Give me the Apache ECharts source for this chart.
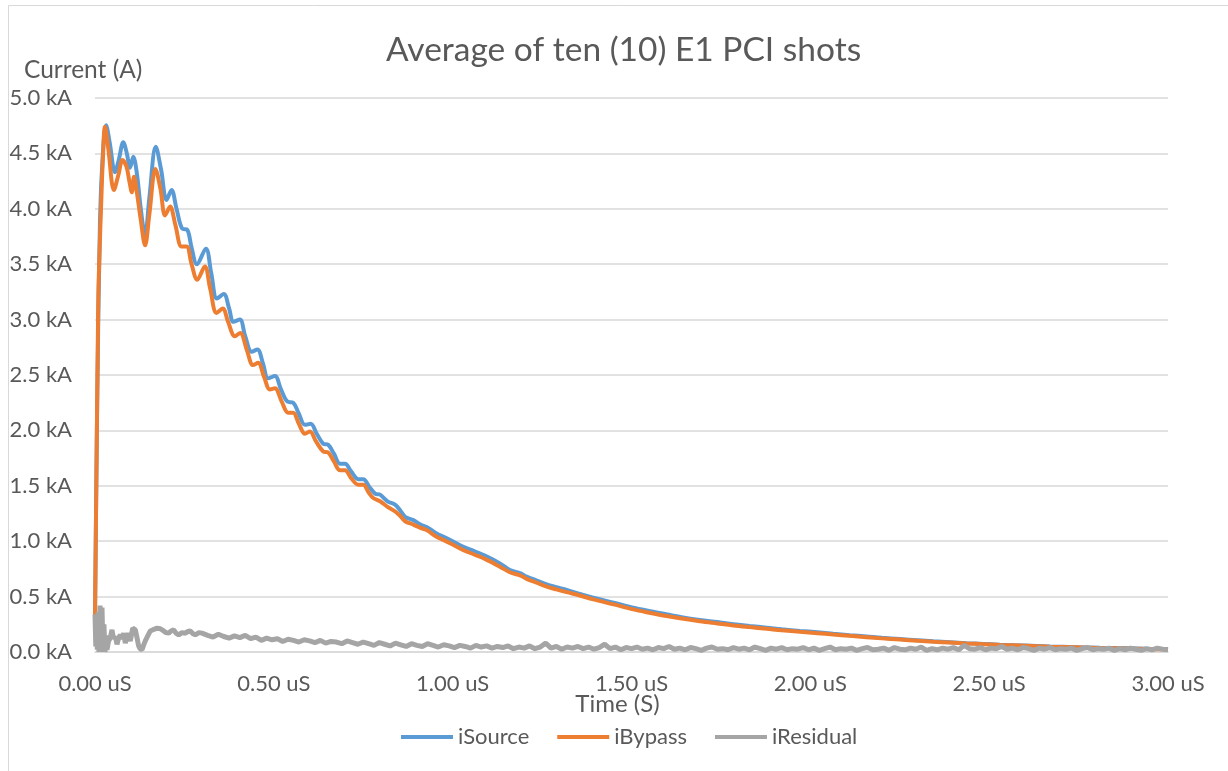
<!DOCTYPE html>
<html>
<head>
<meta charset="utf-8">
<title>Average of ten (10) E1 PCI shots</title>
<script src="https://cdn.jsdelivr.net/npm/echarts@6/dist/echarts.min.js"></script>
<style>
  html, body { margin: 0; padding: 0; background: #fff; }
  #chart { width: 1228px; height: 771px; }
</style>
</head>
<body>
<div id="chart"></div>
<script>
// axis ticks
const xTicks = [0, 0.5, 1, 1.5, 2, 2.5, 3]
const yTicks = [0, 0.5, 1, 1.5, 2, 2.5, 3, 3.5, 4, 4.5, 5]

// iSource: time (uS) / current (kA)
const tSource = [0, 0.006, 0.014, 0.022, 0.031, 0.041, 0.056, 0.067, 0.079, 0.089, 0.098, 0.107, 0.117, 0.128, 0.140, 0.152, 0.170, 0.185, 0.200, 0.214, 0.228, 0.244, 0.258, 0.270, 0.285, 0.310, 0.325, 0.341, 0.360, 0.375, 0.387, 0.405, 0.420, 0.438, 0.454, 0.470, 0.484, 0.503, 0.520, 0.538, 0.554, 0.570, 0.587, 0.603, 0.620, 0.638, 0.652, 0.668, 0.685, 0.699, 0.716, 0.736, 0.750, 0.767, 0.783, 0.797, 0.818, 0.839, 0.853, 0.867, 0.890, 0.910, 0.932, 0.955, 0.975, 1.0, 1.03, 1.06, 1.09, 1.132, 1.160, 1.19, 1.207, 1.235, 1.263, 1.29, 1.319, 1.355, 1.393, 1.45, 1.505, 1.55, 1.598, 1.64, 1.691, 1.74, 1.785, 1.83, 1.878, 1.92, 1.971, 2.02, 2.064, 2.11, 2.157, 2.20, 2.251, 2.30, 2.344, 2.39, 2.437, 2.485, 2.53, 2.6, 2.67, 2.74, 2.81, 2.88, 2.94, 3.0]
const iSource = [0.3, 2.2, 3.9, 4.5, 4.755, 4.6, 4.33, 4.45, 4.60, 4.5, 4.37, 4.47, 4.32, 4.0, 3.76, 4.1, 4.56, 4.35, 4.08, 4.17, 4.0, 3.82, 3.81, 3.65, 3.50, 3.64, 3.42, 3.19, 3.23, 3.1, 2.98, 3.00, 2.85, 2.71, 2.73, 2.6, 2.47, 2.49, 2.37, 2.26, 2.25, 2.15, 2.05, 2.06, 1.97, 1.88, 1.87, 1.79, 1.70, 1.70, 1.63, 1.56, 1.56, 1.49, 1.43, 1.42, 1.36, 1.33, 1.28, 1.22, 1.19, 1.15, 1.12, 1.07, 1.04, 1.0, 0.95, 0.91, 0.87, 0.80, 0.74, 0.71, 0.68, 0.645, 0.61, 0.585, 0.56, 0.525, 0.49, 0.445, 0.40, 0.37, 0.34, 0.315, 0.29, 0.27, 0.25, 0.235, 0.22, 0.205, 0.19, 0.178, 0.165, 0.152, 0.14, 0.128, 0.117, 0.106, 0.096, 0.088, 0.08, 0.073, 0.066, 0.058, 0.05, 0.044, 0.038, 0.033, 0.029, 0.026]

// iBypass
const tBypass = [0, 0.004, 0.0092, 0.012, 0.0176, 0.022, 0.028, 0.037, 0.053, 0.065, 0.077, 0.088, 0.096, 0.103, 0.109, 0.117, 0.128, 0.140, 0.152, 0.169, 0.183, 0.196, 0.210, 0.225, 0.242, 0.256, 0.270, 0.286, 0.307, 0.322, 0.340, 0.357, 0.372, 0.391, 0.406, 0.425, 0.442, 0.456, 0.473, 0.489, 0.503, 0.522, 0.540, 0.554, 0.570, 0.587, 0.601, 0.618, 0.638, 0.652, 0.668, 0.685, 0.699, 0.716, 0.736, 0.750, 0.765, 0.778, 0.797, 0.818, 0.839, 0.853, 0.867, 0.890, 0.910, 0.927, 0.955, 0.975, 1.0, 1.03, 1.06, 1.09, 1.132, 1.160, 1.19, 1.207, 1.235, 1.263, 1.29, 1.319, 1.355, 1.393, 1.45, 1.505, 1.55, 1.598, 1.64, 1.691, 1.74, 1.785, 1.83, 1.878, 1.92, 1.971, 2.02, 2.064, 2.11, 2.157, 2.20, 2.251, 2.30, 2.344, 2.39, 2.437, 2.485, 2.53, 2.6, 2.67, 2.74, 2.81, 2.88, 2.94, 3.0]
const iBypass = [0.3, 1.6, 3.18, 3.54, 4.08, 4.45, 4.74, 4.55, 4.17, 4.3, 4.44, 4.38, 4.25, 4.15, 4.29, 4.15, 3.9, 3.67, 3.95, 4.36, 4.18, 3.94, 4.02, 3.85, 3.66, 3.66, 3.5, 3.36, 3.48, 3.28, 3.06, 3.10, 2.98, 2.85, 2.88, 2.72, 2.59, 2.61, 2.48, 2.37, 2.38, 2.26, 2.16, 2.16, 2.06, 1.97, 1.99, 1.9, 1.81, 1.80, 1.72, 1.64, 1.64, 1.57, 1.51, 1.51, 1.44, 1.39, 1.36, 1.31, 1.27, 1.23, 1.18, 1.15, 1.12, 1.10, 1.04, 1.01, 0.97, 0.92, 0.88, 0.84, 0.77, 0.72, 0.69, 0.66, 0.625, 0.59, 0.565, 0.54, 0.51, 0.475, 0.43, 0.385, 0.355, 0.325, 0.302, 0.278, 0.258, 0.24, 0.225, 0.21, 0.196, 0.182, 0.17, 0.158, 0.146, 0.134, 0.123, 0.112, 0.102, 0.093, 0.085, 0.077, 0.07, 0.064, 0.056, 0.048, 0.042, 0.036, 0.031, 0.027, 0.024]

// iResidual, first 0.3 uS read point by point
const tResidualEarly = [0, 0.0022, 0.004, 0.0064, 0.0084, 0.011, 0.014, 0.0176, 0.0196, 0.0224, 0.025, 0.028, 0.031, 0.0335, 0.038, 0.042, 0.0475, 0.0517, 0.0568, 0.0615, 0.0657, 0.0707, 0.0755, 0.0802, 0.0847, 0.0923, 0.0987, 0.1054, 0.1127, 0.1174, 0.1216, 0.1258, 0.1314, 0.1356, 0.1406, 0.1482, 0.1546, 0.165, 0.1733, 0.1826, 0.1921, 0.1985, 0.206, 0.2125, 0.22, 0.2264, 0.234, 0.2432, 0.2524, 0.26, 0.2664, 0.274, 0.2804, 0.2907, 0.2991]
const iResidualEarly = [0.34, 0.05, 0.30, 0.02, 0.36, 0.0, 0.42, 0.05, 0.40, 0.0, 0.25, 0.0, 0.15, 0.02, 0.10, 0.12, 0.20, 0.12, 0.14, 0.07, 0.12, 0.155, 0.12, 0.17, 0.08, 0.17, 0.10, 0.215, 0.2, 0.13, 0.06, 0.03, 0.02, 0.06, 0.10, 0.15, 0.19, 0.205, 0.215, 0.21, 0.19, 0.175, 0.17, 0.19, 0.2, 0.17, 0.155, 0.175, 0.17, 0.185, 0.19, 0.165, 0.155, 0.175, 0.17]
// then sampled every 0.015 uS from 0.315 uS
const residualStart = 0.315
const residualStep = 0.015
const iResidualLate = [
  0.15, 0.135, 0.16, 0.14, 0.125, 0.145, 0.13, 0.15, 0.12, 0.135,
  0.105, 0.125, 0.11, 0.12, 0.095, 0.115, 0.105, 0.09, 0.11, 0.1,
  0.085, 0.105, 0.08, 0.095, 0.09, 0.075, 0.1, 0.085, 0.07, 0.09,
  0.075, 0.06, 0.085, 0.07, 0.055, 0.08, 0.065, 0.05, 0.075, 0.06,
  0.05, 0.075, 0.06, 0.045, 0.065, 0.055, 0.04, 0.06, 0.05, 0.035,
  0.06, 0.045, 0.055, 0.035, 0.05, 0.04, 0.055, 0.03, 0.045, 0.035,
  0.055, 0.03, 0.045, 0.08, 0.035, 0.05, 0.025, 0.045, 0.035, 0.05,
  0.03, 0.045, 0.025, 0.04, 0.07, 0.03, 0.045, 0.02, 0.04, 0.03,
  0.045, 0.025, 0.035, 0.02, 0.04, 0.03, 0.05, 0.025, 0.035, 0.02,
  0.04, 0.03, 0.015, 0.035, 0.045, 0.025, 0.03, 0.02, 0.04, 0.025,
  0.035, 0.02, 0.045, 0.03, 0.015, 0.035, 0.025, 0.04, 0.02, 0.03,
  0.025, 0.04, 0.02, 0.035, 0.015, 0.03, 0.045, 0.02, 0.03, 0.025,
  0.035, 0.015, 0.03, 0.04, 0.02, 0.025, 0.035, 0.015, 0.04, 0.025,
  0.02, 0.035, 0.025, 0.045, 0.015, 0.03, 0.02, 0.035, 0.025, 0.04,
  0.02, 0.06, 0.03, 0.025, 0.04, 0.02, 0.035, 0.03, 0.05, 0.025,
  0.035, 0.02, 0.04, 0.03, 0.015, 0.035, 0.025, 0.04, 0.02, 0.03,
  0.025, 0.035, 0.015, 0.03, 0.04, 0.02, 0.03, 0.025, 0.035, 0.015,
  0.03, 0.02, 0.035, 0.025, 0.015, 0.03, 0.02, 0.035, 0.025, 0.02
]

const FONT = 'Lato'
const TEXT = '#595959'

const pairs = (ts, vs) => ts.map((t, i) => [t, vs[i]])
const residual = pairs(tResidualEarly, iResidualEarly)
    .concat(iResidualLate.map((v, i) => [+(residualStart + i * residualStep).toFixed(3), v]))

const chart = echarts.init(document.getElementById('chart'))
chart.setOption({
    animation: false,
    backgroundColor: '#fff',
    title: {
        text: 'Average of ten (10) E1 PCI shots',
        left: 381,
        top: 28,
        textStyle: { fontFamily: FONT, fontSize: 33.5, fontWeight: 'normal', color: TEXT }
    },
    graphic: [
        // chart border (right/bottom edges fall outside the picture)
        { type: 'rect', shape: { x: 8.5, y: 5.5, width: 1240, height: 800 }, style: { fill: null, stroke: '#d9d9d9', lineWidth: 1 } },
        { type: 'text', left: 24, top: 58, style: { text: 'Current (A)', font: `24.5px ${FONT}`, fill: TEXT } }
    ],
    legend: {
        left: 396,
        top: 721,
        itemWidth: 52,
        itemHeight: 4,
        itemGap: 28,
        icon: 'rect',
        textStyle: { fontFamily: FONT, fontSize: 22, color: TEXT },
        data: ['iSource', 'iBypass', 'iResidual']
    },
    grid: { left: 95, right: 60, top: 98, bottom: 119 },
    xAxis: {
        type: 'value',
        min: xTicks[0],
        max: xTicks[xTicks.length - 1],
        interval: 0.5,
        name: 'Time (S)',
        nameLocation: 'middle',
        nameMoveOverlap: false,
        nameGap: 40,
        nameTextStyle: { fontFamily: FONT, fontSize: 24, color: TEXT, padding: [0, 28, 0, 0] },
        axisLine: { lineStyle: { color: '#d9d9d9', width: 1.5 } },
        axisTick: { show: false },
        splitLine: { show: false },
        axisLabel: {
            margin: 21,
            fontFamily: FONT, fontSize: 22, color: TEXT,
            formatter: v => v.toFixed(2) + ' uS'
        }
    },
    yAxis: {
        type: 'value',
        min: yTicks[0],
        max: yTicks[yTicks.length - 1],
        interval: 0.5,
        axisLine: { show: false },
        axisTick: { show: false },
        splitLine: { lineStyle: { color: '#d9d9d9', width: 1.5 } },
        axisLabel: {
            margin: 23,
            fontFamily: FONT, fontSize: 22, color: TEXT,
            formatter: v => v.toFixed(1) + ' kA'
        }
    },
    series: [
        {
            name: 'iSource', type: 'line', showSymbol: false, smooth: 0.35,
            lineStyle: { width: 4, color: '#5B9BD5' }, itemStyle: { color: '#5B9BD5' },
            data: pairs(tSource, iSource)
        },
        {
            name: 'iBypass', type: 'line', showSymbol: false, smooth: 0.35,
            lineStyle: { width: 4, color: '#ED7D31' }, itemStyle: { color: '#ED7D31' },
            data: pairs(tBypass, iBypass)
        },
        {
            name: 'iResidual', type: 'line', showSymbol: false,
            lineStyle: { width: 5, color: '#A5A5A5' }, itemStyle: { color: '#A5A5A5' },
            data: residual
        }
    ]
})
</script>
</body>
</html>
